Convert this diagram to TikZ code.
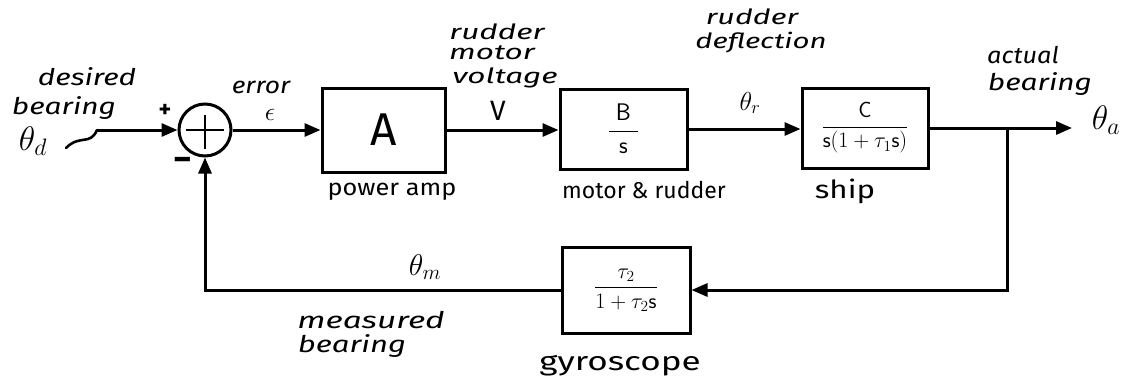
\RequirePackage{fix-cm}
\documentclass[tikz,border=0pt]{standalone}
\usepackage{fontspec}
\setmainfont{Fira Sans}
\usepackage{amsmath}
\usetikzlibrary{arrows.meta}

% widen a piece of text without making it taller
\newcommand{\stretchx}[2]{\scalebox{#1}[1]{#2}}

\tikzset{
  blockbox/.style={draw, line width=3pt, inner sep=0pt},
  wire/.style={line width=3pt},
  arr/.style={wire, -{Triangle[length=16pt,width=13pt]}},
  hand/.style={font=\fontsize{23}{23}\selectfont\itshape, inner sep=0pt},
  smallhand/.style={font=\fontsize{21}{21}\selectfont\itshape, inner sep=0pt},
  caption/.style={font=\fontsize{23}{23}\selectfont, inner sep=0pt},
  sig/.style={font=\fontsize{30}{30}\selectfont, inner sep=0pt},
}

\begin{document}
\begin{tikzpicture}[x=1pt,y=-1pt]
  \useasboundingbox (0,0) rectangle (1124,384);

  % summing junction
  \node[draw, circle, line width=3pt, minimum size=52pt, inner sep=0pt] (sum) at (205,130) {};
  \draw[line width=2.6pt] ([xshift=-19pt]sum.center) -- ([xshift=19pt]sum.center);
  \draw[line width=2.6pt] ([yshift=-19pt]sum.center) -- ([yshift=15pt]sum.center);
  \node[font=\fontsize{24}{24}\selectfont\bfseries, inner sep=0pt] (plus) at (165,111) {+};
  \node[font=\fontsize{36}{36}\selectfont\bfseries, inner sep=0pt] (minus) at (183,164) {\textminus};

  % forward path blocks
  \node[blockbox, minimum width=123pt, minimum height=84pt] (amp) at (383.5,130)
    {\fontsize{46}{46}\selectfont A};
  \node[blockbox, minimum width=127pt, minimum height=80pt] (rud) at (623.5,129)
    {\fontsize{24}{24}\selectfont$\dfrac{\;\mathsf{B}\;}{\;\mathsf{s}\;}$};
  \node[blockbox, minimum width=126pt, minimum height=80pt] (ship) at (865,128)
    {\fontsize{22}{22}\selectfont$\dfrac{\mathsf{C}}{\mathsf{s}(1+\tau_1\mathsf{s})}$};

  % feedback block
  \node[blockbox, minimum width=128pt, minimum height=86pt] (gyro) at (626,290)
    {\fontsize{22}{22}\selectfont$\dfrac{\tau_2}{1+\tau_2\mathsf{s}}$};

  % signal end points
  \coordinate (din) at (97,130);
  \coordinate (branch) at (1007,128);
  \coordinate (out) at (1072,128);

  % input label with its hooked lead
  \node[sig, font=\fontsize{34}{34}\selectfont] (thd) at (33,141) {$\theta_d$};
  \draw[line width=2.6pt, line cap=round] (din) .. controls (90,146) and (80,134) .. (66,148);
  \node[hand] (desired) at (87,77) {\stretchx{1.3}{desired}};
  \node[hand] (bear1) at (64,108) {\stretchx{1.3}{bearing}};

  % connectors
  \draw[arr] (din) -- (sum.west);
  \draw[arr] (sum.east) -- (amp.west);
  \draw[arr] (amp.east) -- (rud.west |- amp.east);
  \draw[arr] (rud.east) -- (ship.west |- rud.east);
  \draw[wire] (ship.east) -- (branch);
  \draw[arr] (branch) -- (out);
  \draw[arr] (branch) |- (gyro.east);
  \draw[arr] (gyro.west) -| (sum.south);

  % signal labels
  \node[hand] (err) at (261,87) {\stretchx{1.15}{error}};
  \node[font=\fontsize{26}{26}\selectfont, inner sep=0pt] (eps) at (270,115) {$\epsilon$};
  \node[smallhand] (v1) at (497,32) {\stretchx{1.5}{rudder}};
  \node[smallhand] (v2) at (492,53) {\stretchx{1.5}{motor}};
  \node[smallhand] (v3) at (505,78) {\stretchx{1.5}{voltage}};
  \node[font=\fontsize{28}{28}\selectfont, inner sep=0pt] (vv) at (498,111) {V};
  \node[smallhand] (d1) at (752,17) {\stretchx{1.45}{rudder}};
  \node[smallhand] (d2) at (761,43) {\stretchx{1.4}{deflection}};
  \node[sig, font=\fontsize{26}{26}\selectfont] (thr) at (750,103) {$\theta_r$};
  \node[hand] (act1) at (1023,55) {\stretchx{1.1}{actual}};
  \node[hand] (act2) at (1040,84) {\stretchx{1.3}{bearing}};
  \node[sig, font=\fontsize{34}{34}\selectfont] (tha) at (1106,120) {$\theta_a$};
  \node[sig] (thm) at (425,267) {$\theta_m$};
  \node[hand] (meas1) at (371,320) {\stretchx{1.45}{measured}};
  \node[hand] (meas2) at (352,346) {\stretchx{1.35}{bearing}};

  % block captions
  \node[caption] (capamp) at (392,192) {\stretchx{1.1}{power amp}};
  \node[caption] (caprud) at (644,190) {motor \& rudder};
  \node[caption, font=\fontsize{25}{25}\selectfont] (capship) at (845,191) {\stretchx{1.25}{ship}};
  \node[caption, font=\fontsize{26}{26}\selectfont] (capgyro) at (620,366) {\stretchx{1.35}{gyroscope}};
\end{tikzpicture}
\end{document}
